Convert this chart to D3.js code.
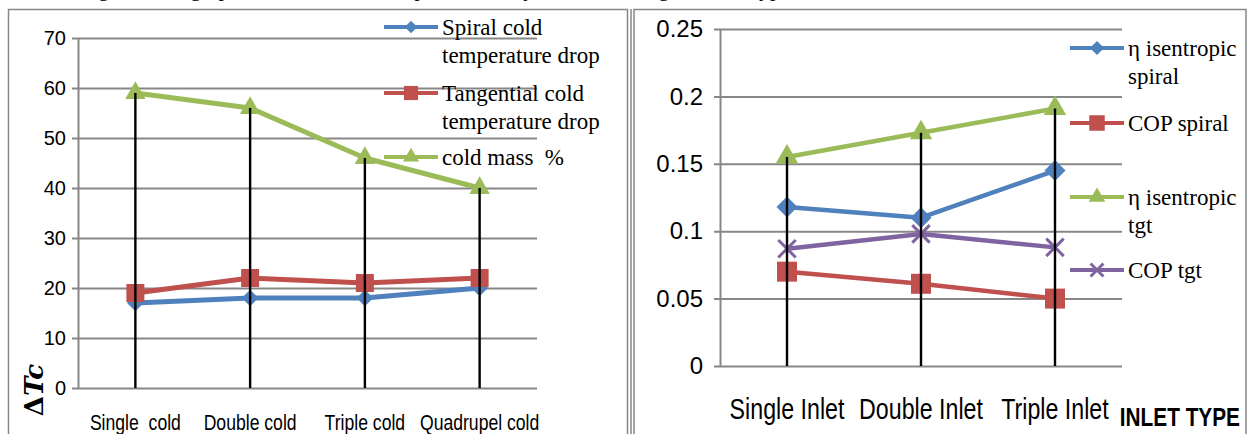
<!DOCTYPE html>
<html>
<head>
<meta charset="utf-8">
<script src="https://cdn.jsdelivr.net/npm/d3@7"></script>
<style>
  body { margin: 0; background: #fff; }
  svg { display: block; }
</style>
</head>
<body>
<svg width="1250" height="434"></svg>
<script>
// left chart data
var leftCats = ["Single  cold", "Double cold", "Triple cold", "Quadrupel cold"];
var spiralDrop = [17, 18, 18, 20];
var tangentialDrop = [19, 22, 21, 22];
var coldMass = [59, 56, 46, 40];
var leftTicks = [0, 10, 20, 30, 40, 50, 60, 70];

// right chart data
var rightCats = ["Single Inlet", "Double Inlet", "Triple Inlet"];
var etaSpiral = [0.118, 0.110, 0.145];
var copSpiral = [0.070, 0.061, 0.050];
var etaTgt = [0.155, 0.173, 0.191];
var copTgt = [0.087, 0.098, 0.088];
var rightTicks = [0, 0.05, 0.1, 0.15, 0.2, 0.25];

var blue = "#4f81bd", red = "#c0504d", green = "#9bbb59", purple = "#8064a2";
var gridColor = "#878787";

var svg = d3.select("svg");

// squeeze a text horizontally, no narrow font is installed
function condense(sel, k) {
    sel.each(function () {
        var w = this.getComputedTextLength();
        d3.select(this).attr("textLength", w * k).attr("lengthAdjust", "spacingAndGlyphs");
    });
}

// cut-off line of text above the charts
svg.append("text")
    .attr("x", -4).attr("y", -4)
    .style("font-family", "Liberation Serif, serif")
    .style("font-size", "22px")
    .text("that showing the cold graph of COP and isentropic efficiency with the change of inlet type");

// panel frames
svg.append("rect").attr("x", 8.5).attr("y", 9.5).attr("width", 619).attr("height", 440)
    .attr("fill", "none").attr("stroke", gridColor).attr("stroke-width", 1.5);
svg.append("line").attr("x1", 631).attr("x2", 631).attr("y1", 9).attr("y2", 434)
    .attr("stroke", gridColor).attr("stroke-width", 1.5);
svg.append("rect").attr("x", 634).attr("y", 9.5).attr("width", 612).attr("height", 440)
    .attr("fill", "none").attr("stroke", gridColor).attr("stroke-width", 1.5);

function symbolPath(kind, size) {
    if (kind == "diamond") return d3.symbol(d3.symbolSquare, size)();
    if (kind == "square") return d3.symbol(d3.symbolSquare, size)();
    if (kind == "triangle") return d3.symbol(d3.symbolTriangle, size)();
    if (kind == "x") return d3.symbol(d3.symbolX, size)();
}

function drawMarker(g, kind, size, color, cx, cy) {
    var p = g.append("path")
        .attr("d", symbolPath(kind, size))
        .attr("transform", "translate(" + cx + "," + cy + ")" + (kind == "diamond" ? " rotate(45)" : ""));
    if (kind == "x") p.attr("fill", "none").attr("stroke", color).attr("stroke-width", 3);
    else p.attr("fill", color);
}

function drawChart(opt) {
    var g = svg.append("g");
    var x = d3.scaleBand().domain(opt.cats).range([opt.x0, opt.x1]);
    var y = d3.scaleLinear().domain(opt.domain).range([opt.y0, opt.y1]);

    // y axis with grid
    var yAxis = g.append("g")
        .attr("transform", "translate(" + opt.x0 + ",0)")
        .call(d3.axisLeft(y).tickValues(opt.ticks).tickSizeInner(-(opt.x1 - opt.x0)).tickSizeOuter(0)
            .tickPadding(opt.tickPad).tickFormat(d3.format("")));
    yAxis.select(".domain").attr("stroke", gridColor).attr("stroke-width", 2);
    yAxis.selectAll(".tick line").attr("x1", -6).attr("stroke", gridColor).attr("stroke-width", 2);
    yAxis.selectAll(".tick text")
        .style("font-family", "Liberation Sans, Arial, sans-serif")
        .style("font-size", opt.tickFont + "px")
        .attr("fill", "#000");

    // x labels
    g.selectAll(".xlab").data(opt.cats).enter().append("text")
        .attr("x", function (d) { return x(d) + x.bandwidth() / 2; })
        .attr("y", opt.labelY)
        .attr("text-anchor", "middle")
        .style("font-family", "Liberation Sans, Arial, sans-serif")
        .style("font-size", opt.labelFont + "px")
        .style("white-space", "pre")
        .text(function (d) { return d; })
        .call(condense, 0.8);

    var line = d3.line()
        .x(function (d, i) { return x(opt.cats[i]) + x.bandwidth() / 2; })
        .y(function (d) { return y(d); });

    opt.series.forEach(function (s) {
        g.append("path").datum(s.values)
            .attr("d", line)
            .attr("fill", "none").attr("stroke", s.color)
            .attr("stroke-width", opt.lineW).attr("stroke-linejoin", "round");
        s.values.forEach(function (v, i) {
            drawMarker(g, s.marker, s.size, s.color, x(opt.cats[i]) + x.bandwidth() / 2, y(v));
        });
    });

    // drop lines from highest point to the axis
    opt.cats.forEach(function (c, i) {
        var top = d3.max(opt.series, function (s) { return s.values[i]; });
        g.append("line")
            .attr("x1", x(c) + x.bandwidth() / 2).attr("x2", x(c) + x.bandwidth() / 2)
            .attr("y1", y(top)).attr("y2", y(0))
            .attr("stroke", "#000").attr("stroke-width", 2.4);
    });

    // legend
    opt.series.forEach(function (s) {
        var lg = g.append("g");
        lg.append("line")
            .attr("x1", opt.legX).attr("x2", opt.legX + 54)
            .attr("y1", s.legY).attr("y2", s.legY)
            .attr("stroke", s.color).attr("stroke-width", 4);
        drawMarker(lg, s.marker, s.legSize, s.color, opt.legX + 27, s.legY);
        var t = lg.append("text")
            .attr("x", opt.legX + 58).attr("y", s.legY + 8)
            .style("font-family", "Liberation Serif, Times New Roman, serif")
            .style("font-size", "23px")
            .style("white-space", "pre");
        s.label.forEach(function (l, k) {
            t.append("tspan").attr("x", opt.legX + 58).attr("dy", k == 0 ? 0 : 28).text(l);
        });
    });
    return g;
}

drawChart({
    cats: leftCats, domain: [0, 70], ticks: leftTicks,
    x0: 78, x1: 537, y0: 388, y1: 38,
    tickPad: 12, tickFont: 20, labelY: 430, labelFont: 22, lineW: 5,
    legX: 384,
    series: [
        { values: spiralDrop, color: blue, marker: "diamond", size: 140, legSize: 80, legY: 27, label: ["Spiral cold", "temperature drop"] },
        { values: tangentialDrop, color: red, marker: "square", size: 324, legSize: 200, legY: 93, label: ["Tangential cold", "temperature drop"] },
        { values: coldMass, color: green, marker: "triangle", size: 180, legSize: 110, legY: 157, label: ["cold mass  %"] }
    ]
});

drawChart({
    cats: rightCats, domain: [0, 0.25], ticks: rightTicks,
    x0: 720, x1: 1122, y0: 366, y1: 29,
    tickPad: 17, tickFont: 24, labelY: 419, labelFont: 29, lineW: 4.5,
    legX: 1070,
    series: [
        { values: etaSpiral, color: blue, marker: "diamond", size: 220, legSize: 100, legY: 48, label: ["\u03b7 isentropic", "spiral"] },
        { values: copSpiral, color: red, marker: "square", size: 400, legSize: 240, legY: 123, label: ["COP spiral"] },
        { values: etaTgt, color: green, marker: "triangle", size: 220, legSize: 120, legY: 197, label: ["\u03b7 isentropic", "tgt"] },
        { values: copTgt, color: purple, marker: "x", size: 200, legSize: 110, legY: 270, label: ["COP tgt"] }
    ]
});

// axis titles
svg.append("text")
    .attr("transform", "translate(43,390) rotate(-90)")
    .attr("text-anchor", "middle")
    .style("font-family", "DejaVu Serif, serif")
    .style("font-weight", "bold")
    .style("font-size", "26px")
    .html("\u0394<tspan font-style='italic'>Tc</tspan>");

svg.append("text")
    .attr("x", 1240).attr("y", 426)
    .attr("text-anchor", "end")
    .style("font-family", "Liberation Sans, Arial, sans-serif")
    .style("font-weight", "bold")
    .style("font-size", "26px")
    .text("INLET TYPE")
    .call(condense, 0.8);
</script>
</body>
</html>
